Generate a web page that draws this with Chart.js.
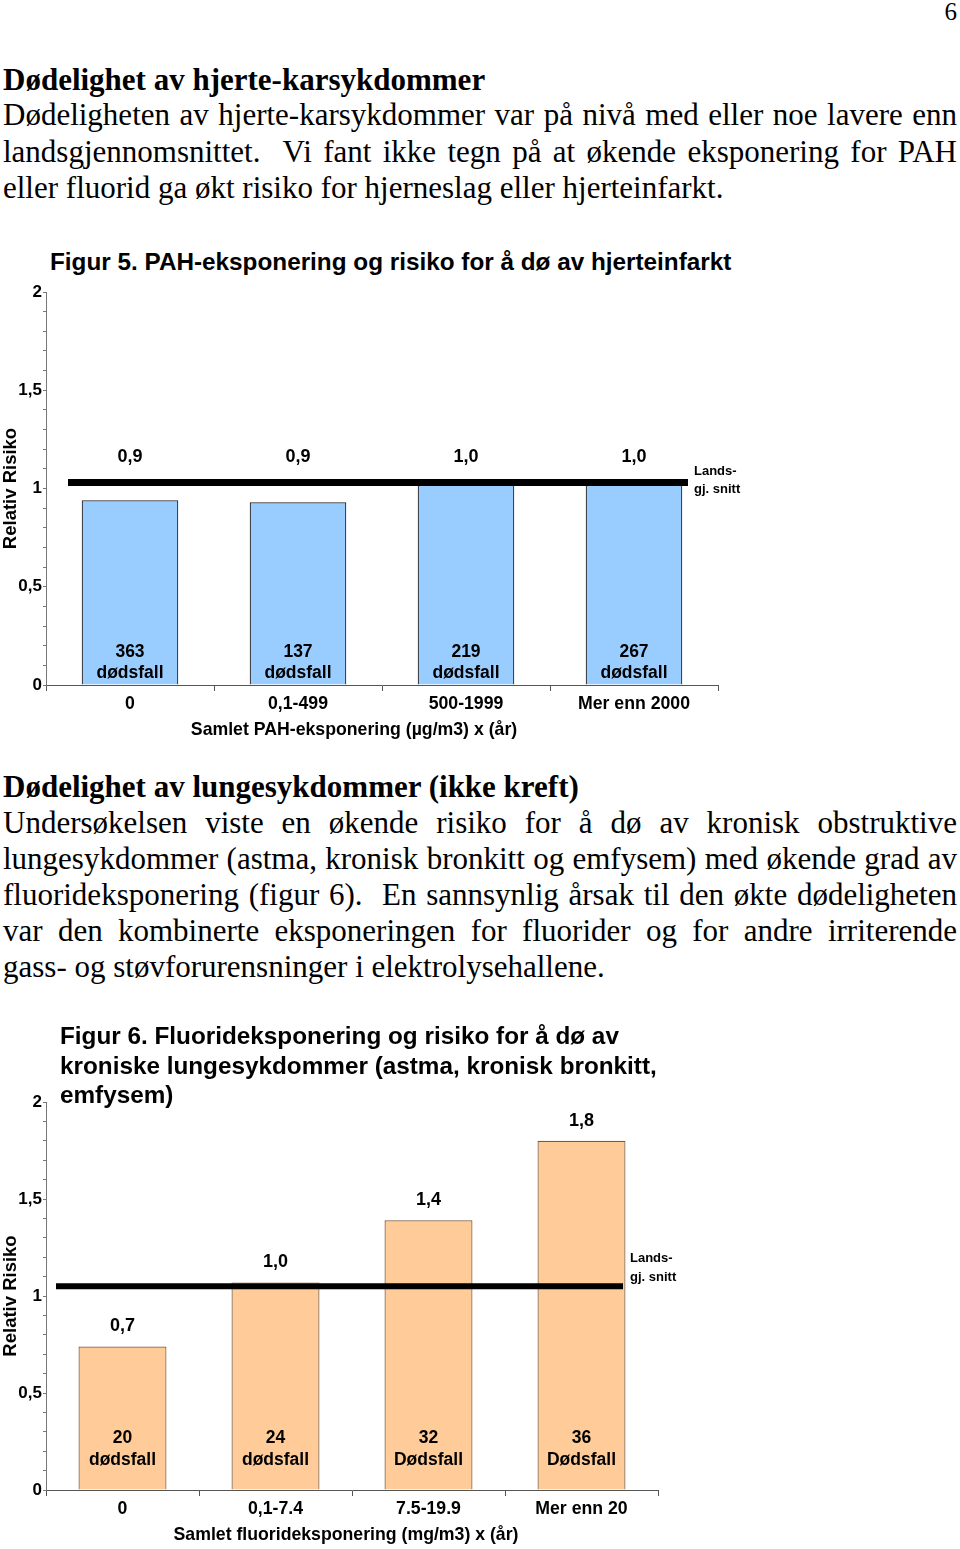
<!DOCTYPE html>
<html>
<head>
<meta charset="utf-8">
<script src="https://cdn.jsdelivr.net/npm/chart.js@4.4.1/dist/chart.umd.min.js"></script>
<style>
  body { margin:0; background:#fff; width:960px; height:1549px; position:relative; overflow:hidden; }
  .t { position:absolute; left:3px; font-family:"Liberation Serif","Times New Roman",serif; font-size:31px; line-height:36px; white-space:nowrap; color:#000; }
  .j { width:954px; white-space:normal; text-align:justify; text-align-last:justify; }
  .b { font-weight:bold; }
  .ft { position:absolute; font-family:"Liberation Sans",Arial,sans-serif; font-weight:bold; font-size:24.3px; line-height:29.5px; white-space:nowrap; color:#000; }
  canvas { position:absolute; }
</style>
</head>
<body>
<div class="t" style="left:auto;right:3px;top:-6px;font-size:25px;">6</div>

<div class="t b" style="top:62px;">Dødelighet av hjerte-karsykdommer</div>
<div class="t j" style="top:97px;">Dødeligheten av hjerte-karsykdommer var på nivå med eller noe lavere enn</div>
<div class="t j" style="top:134px;">landsgjennomsnittet.&nbsp; Vi fant ikke tegn på at økende eksponering for PAH</div>
<div class="t" style="top:170px;">eller fluorid ga økt risiko for hjerneslag eller hjerteinfarkt.</div>

<div class="ft" style="left:50px;top:247px;">Figur 5. PAH-eksponering og risiko for å dø av hjerteinfarkt</div>
<canvas id="fig5" width="760" height="510" style="left:0;top:240px;"></canvas>

<div class="t b" style="top:769px;">Dødelighet av lungesykdommer (ikke kreft)</div>
<div class="t j" style="top:805px;">Undersøkelsen viste en økende risiko for å dø av kronisk obstruktive</div>
<div class="t j" style="top:841px;">lungesykdommer (astma, kronisk bronkitt og emfysem) med økende grad av</div>
<div class="t j" style="top:877px;">fluorideksponering (figur 6).&nbsp; En sannsynlig årsak til den økte dødeligheten</div>
<div class="t j" style="top:913px;">var den kombinerte eksponeringen for fluorider og for andre irriterende</div>
<div class="t" style="top:949px;">gass- og støvforurensninger i elektrolysehallene.</div>

<canvas id="fig6" width="700" height="534" style="left:0;top:1015px;"></canvas>
<div class="ft" style="left:60px;top:1021px;">Figur 6. Fluorideksponering og risiko for å dø av<br>kroniske lungesykdommer (astma, kronisk bronkitt,<br>emfysem)</div>

<script>
// Figur 5 - PAH
const pahKategorier = ['0', '0,1-499', '500-1999', 'Mer enn 2000'];
const pahRisiko = [0.94, 0.93, 1.02, 1.02];
const pahRisikoTekst = ['0,9', '0,9', '1,0', '1,0'];
const pahDodsfall = ['363', '137', '219', '267'];
const pahDodsfallOrd = ['dødsfall', 'dødsfall', 'dødsfall', 'dødsfall'];
const pahLandssnitt = 1.03;

// Figur 6 - fluorid
const fluorKategorier = ['0', '0,1-7.4', '7.5-19.9', 'Mer enn 20'];
const fluorRisiko = [0.74, 1.07, 1.39, 1.80];
const fluorRisikoTekst = ['0,7', '1,0', '1,4', '1,8'];
const fluorDodsfall = ['20', '24', '32', '36'];
const fluorDodsfallOrd = ['dødsfall', 'dødsfall', 'Dødsfall', 'Dødsfall'];
const fluorLandssnitt = 1.05;

const yMin = 0, yMax = 2, yStep = 0.1;

const SANS = '"Liberation Sans", Arial, sans-serif';

// draws the national average line, bar value labels, death counts and x title
const tekster = {
  id: 'tekster',
  afterDatasetsDraw(chart, args, o) {
    const { ctx, chartArea: a, scales: { y } } = chart;
    const bars = chart.getDatasetMeta(0).data;
    const lineY = y.getPixelForValue(o.snitt);
    const null0 = y.getPixelForValue(0);
    ctx.save();
    ctx.strokeStyle = '#000';
    ctx.lineWidth = o.lineW;
    ctx.beginPath();
    ctx.moveTo(a.left + o.inL, lineY);
    ctx.lineTo(a.right - o.inR, lineY);
    ctx.stroke();

    ctx.fillStyle = '#000';
    ctx.textAlign = 'center';
    ctx.textBaseline = 'middle';
    ctx.font = 'bold 18px ' + SANS;
    bars.forEach((bar, i) => {
      const top = o.overLinje ? Math.min(bar.y, lineY) : bar.y;
      ctx.fillText(o.verdi[i], bar.x, top - o.over);
    });
    ctx.font = 'bold 17.5px ' + SANS;
    bars.forEach((bar, i) => {
      ctx.fillText(o.antall[i], bar.x, null0 - o.under1);
      ctx.fillText(o.ord[i], bar.x, null0 - o.under2);
    });

    ctx.textAlign = 'left';
    ctx.font = 'bold 13px ' + SANS;
    const lx = a.right - o.inR + o.lx;
    ctx.fillText('Lands-', lx, lineY + o.ly1);
    ctx.fillText('gj. snitt', lx, lineY + o.ly2);

    ctx.textAlign = 'center';
    ctx.font = 'bold 17.7px ' + SANS;
    ctx.fillText(o.xTittel, a.left + o.tx, a.bottom + 45);
    ctx.restore();
  }
};

function lagFigur(id, kategorier, risiko, farge, kant, pad, xH, tekst) {
  return new Chart(document.getElementById(id), {
    type: 'bar',
    data: {
      labels: kategorier,
      datasets: [{
        data: risiko,
        backgroundColor: farge,
        borderColor: kant,
        borderWidth: 1.2,
        categoryPercentage: 1,
        barPercentage: 0.575
      }]
    },
    options: {
      responsive: false,
      animation: false,
      devicePixelRatio: 1,
      layout: { padding: pad },
      plugins: { legend: { display: false }, tooltip: { enabled: false }, tekster: tekst },
      scales: {
        x: {
          afterFit(s) { s.height = xH; },
          border: { color: '#555' },
          grid: { offset: true, drawOnChartArea: false, tickLength: 6, color: '#555' },
          ticks: { padding: 2, color: '#000', maxRotation: 0, autoSkip: false,
                   font: { family: SANS, size: 17.7, weight: 'bold' } }
        },
        y: {
          min: yMin, max: yMax,
          afterFit(s) { s.width = 46; },
          border: { color: '#777' },
          grid: { drawOnChartArea: false, tickLength: 3, color: '#777' },
          ticks: {
            stepSize: yStep, autoSkip: false, padding: 1, color: '#000',
            font: { family: SANS, size: 17, weight: 'bold' },
            callback(v) {
              const r = Math.round(v * 10);
              return r % 5 === 0 ? String(r / 10).replace('.', ',') : '';
            }
          },
          title: { display: true, text: 'Relativ Risiko', color: '#000', padding: 0,
                   font: { family: SANS, size: 18.5, weight: 'bold' } }
        }
      }
    },
    plugins: [tekster]
  });
}

lagFigur('fig5', pahKategorier, pahRisiko, '#99ccff', '#222', { top: 52, right: 42, bottom: 0, left: 0 }, 65, {
  snitt: pahLandssnitt, lineW: 7, inL: 22, inR: 30, overLinje: true,
  verdi: pahRisikoTekst, antall: pahDodsfall, ord: pahDodsfallOrd,
  over: 26, under1: 33, under2: 12,
  lx: 6, ly1: -11, ly2: 7,
  xTittel: 'Samlet PAH-eksponering (µg/m3) x (år)', tx: 308
});

lagFigur('fig6', fluorKategorier, fluorRisiko, '#ffcc99', '#7a5a3c', { top: 87, right: 42, bottom: 0, left: 0 }, 59, {
  snitt: fluorLandssnitt, lineW: 6, inL: 10, inR: 35, overLinje: false,
  verdi: fluorRisikoTekst, antall: fluorDodsfall, ord: fluorDodsfallOrd,
  over: 20, under1: 52, under2: 30,
  lx: 7, ly1: -28, ly2: -9,
  xTittel: 'Samlet fluorideksponering (mg/m3) x (år)', tx: 300
});
</script>
</body>
</html>
